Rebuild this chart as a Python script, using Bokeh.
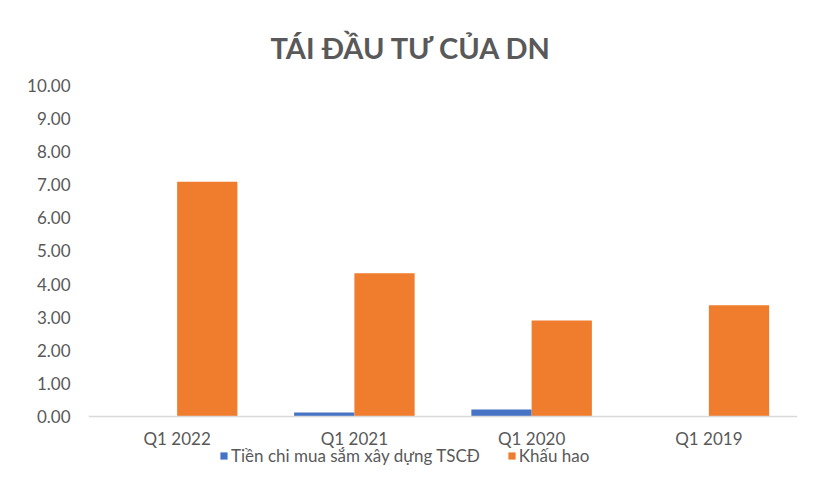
from bokeh.plotting import figure
from bokeh.models import ColumnDataSource, FactorRange, FixedTicker, NumeralTickFormatter, Legend, LegendItem, Title, Span
from bokeh.core.properties import value
from bokeh.transform import dodge
from bokeh.embed import file_html
from bokeh.resources import INLINE

categories = ["Q1 2022", "Q1 2021", "Q1 2020", "Q1 2019"]
tien_chi = [0.01, 0.12, 0.21, 0.0]
khau_hao = [7.09, 4.33, 2.90, 3.36]
y_ticks = [0, 1, 2, 3, 4, 5, 6, 7, 8, 9, 10]
series_names = ["Tiền chi mua sắm xây dựng TSCĐ", "Khấu hao"]
title_text = "TÁI ĐẦU TƯ CỦA DN"

src = ColumnDataSource(dict(cat=categories, a=tien_chi, b=khau_hao))

FONT = "Lato"
GREY = "#595959"

# frame spans from the 10.00 line down to the bottom of the canvas; 0 sits 70px above it
p = figure(width=816, height=486, x_range=FactorRange(*categories), y_range=(-2.115, 10),
           output_backend="svg", toolbar_location=None,
           min_border_left=88, min_border_right=19, min_border_top=85, min_border_bottom=0)
p.title = Title(text=title_text, align="left", text_font=FONT, text_font_size="29px",
                text_color=GREY, text_font_style="bold", offset=182, standoff=41)
p.outline_line_color = None
p.grid.grid_line_color = None
p.xaxis.visible = False

r1 = p.vbar(x=dodge("cat", -0.17, range=p.x_range), top="a", width=0.34, source=src,
            fill_color="#4673C6", line_color=None)
r2 = p.vbar(x=dodge("cat", 0.17, range=p.x_range), top="b", width=0.34, source=src,
            fill_color="#F07D2E", line_color=None)

# category axis line and labels
p.add_layout(Span(location=0, dimension="width", line_color="#D9D9D9", line_width=1.5))
p.text(x="cat", y=-0.66, text="cat", source=src, text_align="center", text_baseline="middle",
       text_font=value(FONT), text_font_size="17px", text_color=GREY)

p.yaxis.ticker = FixedTicker(ticks=y_ticks)
p.yaxis.formatter = NumeralTickFormatter(format="0.00")
p.yaxis.axis_line_color = None
p.yaxis.major_tick_line_color = None
p.yaxis.minor_tick_line_color = None
p.yaxis.major_label_text_font = FONT
p.yaxis.major_label_text_font_size = "17px"
p.yaxis.major_label_text_color = GREY
p.yaxis.major_label_standoff = 12

legend = Legend(items=[LegendItem(label=series_names[0], renderers=[r1]),
                       LegendItem(label=series_names[1], renderers=[r2])],
                orientation="horizontal", location=(131, 20),
                label_text_font=FONT, label_text_font_size="17px", label_text_color=GREY,
                glyph_width=9, glyph_height=9, label_standoff=3, spacing=27,
                label_height=17,
                background_fill_alpha=0, border_line_color=None, padding=0, margin=0)
p.add_layout(legend, "center")

open("out.html", "w").write(file_html(p, INLINE))
